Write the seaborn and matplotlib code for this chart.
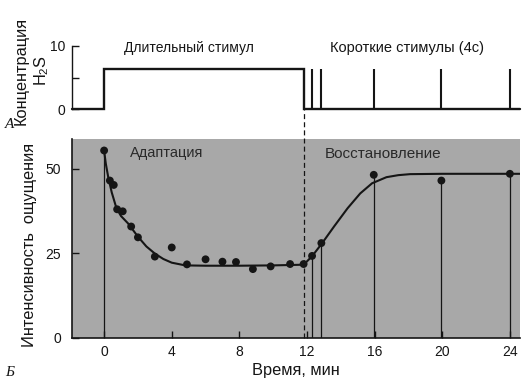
import numpy as np
import pandas as pd
import seaborn as sns
import matplotlib.pyplot as plt

# Адаптация: время (мин) и интенсивность ощущения
adapt_t = [0, 0.34, 0.57, 0.77, 1.1, 1.6, 2.0, 3.0, 4.0, 4.9, 6.0, 7.0, 7.8, 8.8, 9.85, 11.0, 11.8]
adapt_y = [55.4, 46.5, 45.2, 38.0, 37.4, 32.9, 29.7, 24.0, 26.7, 21.7, 23.2, 22.5, 22.4, 20.3, 21.1, 21.8, 21.8]

# Восстановление: ответы на короткие стимулы
recov_t = [12.3, 12.85, 15.95, 19.95, 24.0]
recov_y = [24.2, 28.0, 48.2, 46.5, 48.5]

# сглаженная кривая
curve_t = [0, 0.1, 0.24, 0.45, 0.73, 1.0, 1.42, 2.0, 2.5, 3.0, 3.5, 4.0, 4.8, 6, 8, 10, 11.8,
           12.3, 12.9, 13.6, 14.4, 15.15, 15.85, 16.7, 17.4, 18.1, 20, 24.6]
curve_y = [55.3, 51.5, 47.6, 43.0, 38.3, 36.0, 33.8, 29.9, 27.0, 24.9, 23.3, 22.2, 21.4, 21.3, 21.3, 21.4, 21.6,
           24.1, 28.0, 32.9, 38.3, 42.7, 45.7, 47.5, 48.1, 48.4, 48.5, 48.5]

# стимул H2S
long_on, long_off = 0.0, 11.8
stim_level = 6.3
pulse_t = recov_t

sns.set_style("ticks")
plt.rcParams["font.family"] = ["Liberation Sans", "DejaVu Sans"]
ink = "#151515"

fig = plt.figure(figsize=(5.25, 3.83), dpi=100)
W, H = 525, 383
x0, x1 = -1.9, 24.6

ax_top = fig.add_axes([72 / W, 1 - 109.3 / H, 448 / W, 63.6 / H])
ax_bot = fig.add_axes([72 / W, 1 - 337.7 / H, 448 / W, 198.7 / H])

# --- A: концентрация
ax_top.plot([x0, long_on, long_on, long_off, long_off, x1],
            [0, 0, stim_level, stim_level, 0, 0],
            color=ink, lw=1.7, clip_on=False, solid_joinstyle="miter")
ax_top.vlines(pulse_t, 0, stim_level, color=ink, lw=1.5)
ax_top.set_xlim(x0, x1)
ax_top.set_ylim(0, 10)
ax_top.set_xticks([])
ax_top.set_yticks([0, 5, 10])
ax_top.set_yticklabels(["0", "", "10"])
for s in ["top", "right", "bottom"]:
    ax_top.spines[s].set_visible(False)
ax_top.spines["left"].set_color(ink)
ax_top.spines["left"].set_linewidth(1.0)
ax_top.tick_params(axis="y", direction="in", length=5, width=1, color=ink,
                   labelsize=10, pad=5, labelcolor=ink)
ax_top.text(5.0, 9.6, "Длительный стимул", ha="center", va="center", fontsize=10, color=ink)
ax_top.text(17.9, 9.6, "Короткие стимулы (4с)", ha="center", va="center", fontsize=10.5, color=ink)

# --- Б: интенсивность ощущения
ax_bot.set_facecolor("#a8a8a8")
ax_bot.vlines([adapt_t[0]] + recov_t, 0, [adapt_y[0]] + recov_y, color=ink, lw=0.9)
ax_bot.axvline(long_off, ymin=0, ymax=1.146, clip_on=False, color=ink, lw=0.9, ls=(0, (4, 2.5)))
sns.lineplot(x=curve_t, y=curve_y, ax=ax_bot, color=ink, lw=1.5, sort=False)
sns.scatterplot(x=adapt_t + recov_t, y=adapt_y + recov_y, ax=ax_bot,
                s=32, color=ink, edgecolor="none", zorder=3)
ax_bot.set_xlim(x0, x1)
ax_bot.set_ylim(0, 58.8)
ax_bot.set_xticks(range(0, 25, 4))
ax_bot.set_yticks([0, 25, 50])
for s in ["top", "right"]:
    ax_bot.spines[s].set_visible(False)
for s in ["left", "bottom"]:
    ax_bot.spines[s].set_color(ink)
    ax_bot.spines[s].set_linewidth(1.2)
ax_bot.tick_params(direction="in", length=5, width=1, color=ink, labelsize=10, labelcolor=ink)
ax_bot.tick_params(axis="y", pad=8)
ax_bot.tick_params(axis="x", pad=5)
ax_bot.text(3.7, 54.6, "Адаптация", ha="center", va="center", fontsize=10.5, color="#2a2a2a")
ax_bot.text(16.5, 54.3, "Восстановление", ha="center", va="center", fontsize=11, color="#2a2a2a")

# подписи осей
fig.text(30 / W, 1 - 245 / H, "Интенсивность  ощущения", rotation=90,
         ha="center", va="center", fontsize=11.8, color=ink)
fig.text(32 / W, 1 - 71 / H, "Концентрация\nH$_\\mathregular{2}$S", rotation=90,
         ha="center", va="center", fontsize=11.8, color=ink, multialignment="center",
         linespacing=1.25)
fig.text(296 / W, 1 - 370 / H, "Время, мин", ha="center", va="center", fontsize=11.8, color=ink)
fig.text(10 / W, 1 - 125 / H, "А", ha="center", va="center", fontsize=11, color=ink,
         family="Liberation Serif", style="italic")
fig.text(10 / W, 1 - 372 / H, "Б", ha="center", va="center", fontsize=11, color=ink,
         family="Liberation Serif", style="italic")

fig.savefig("out.png", dpi=100)
